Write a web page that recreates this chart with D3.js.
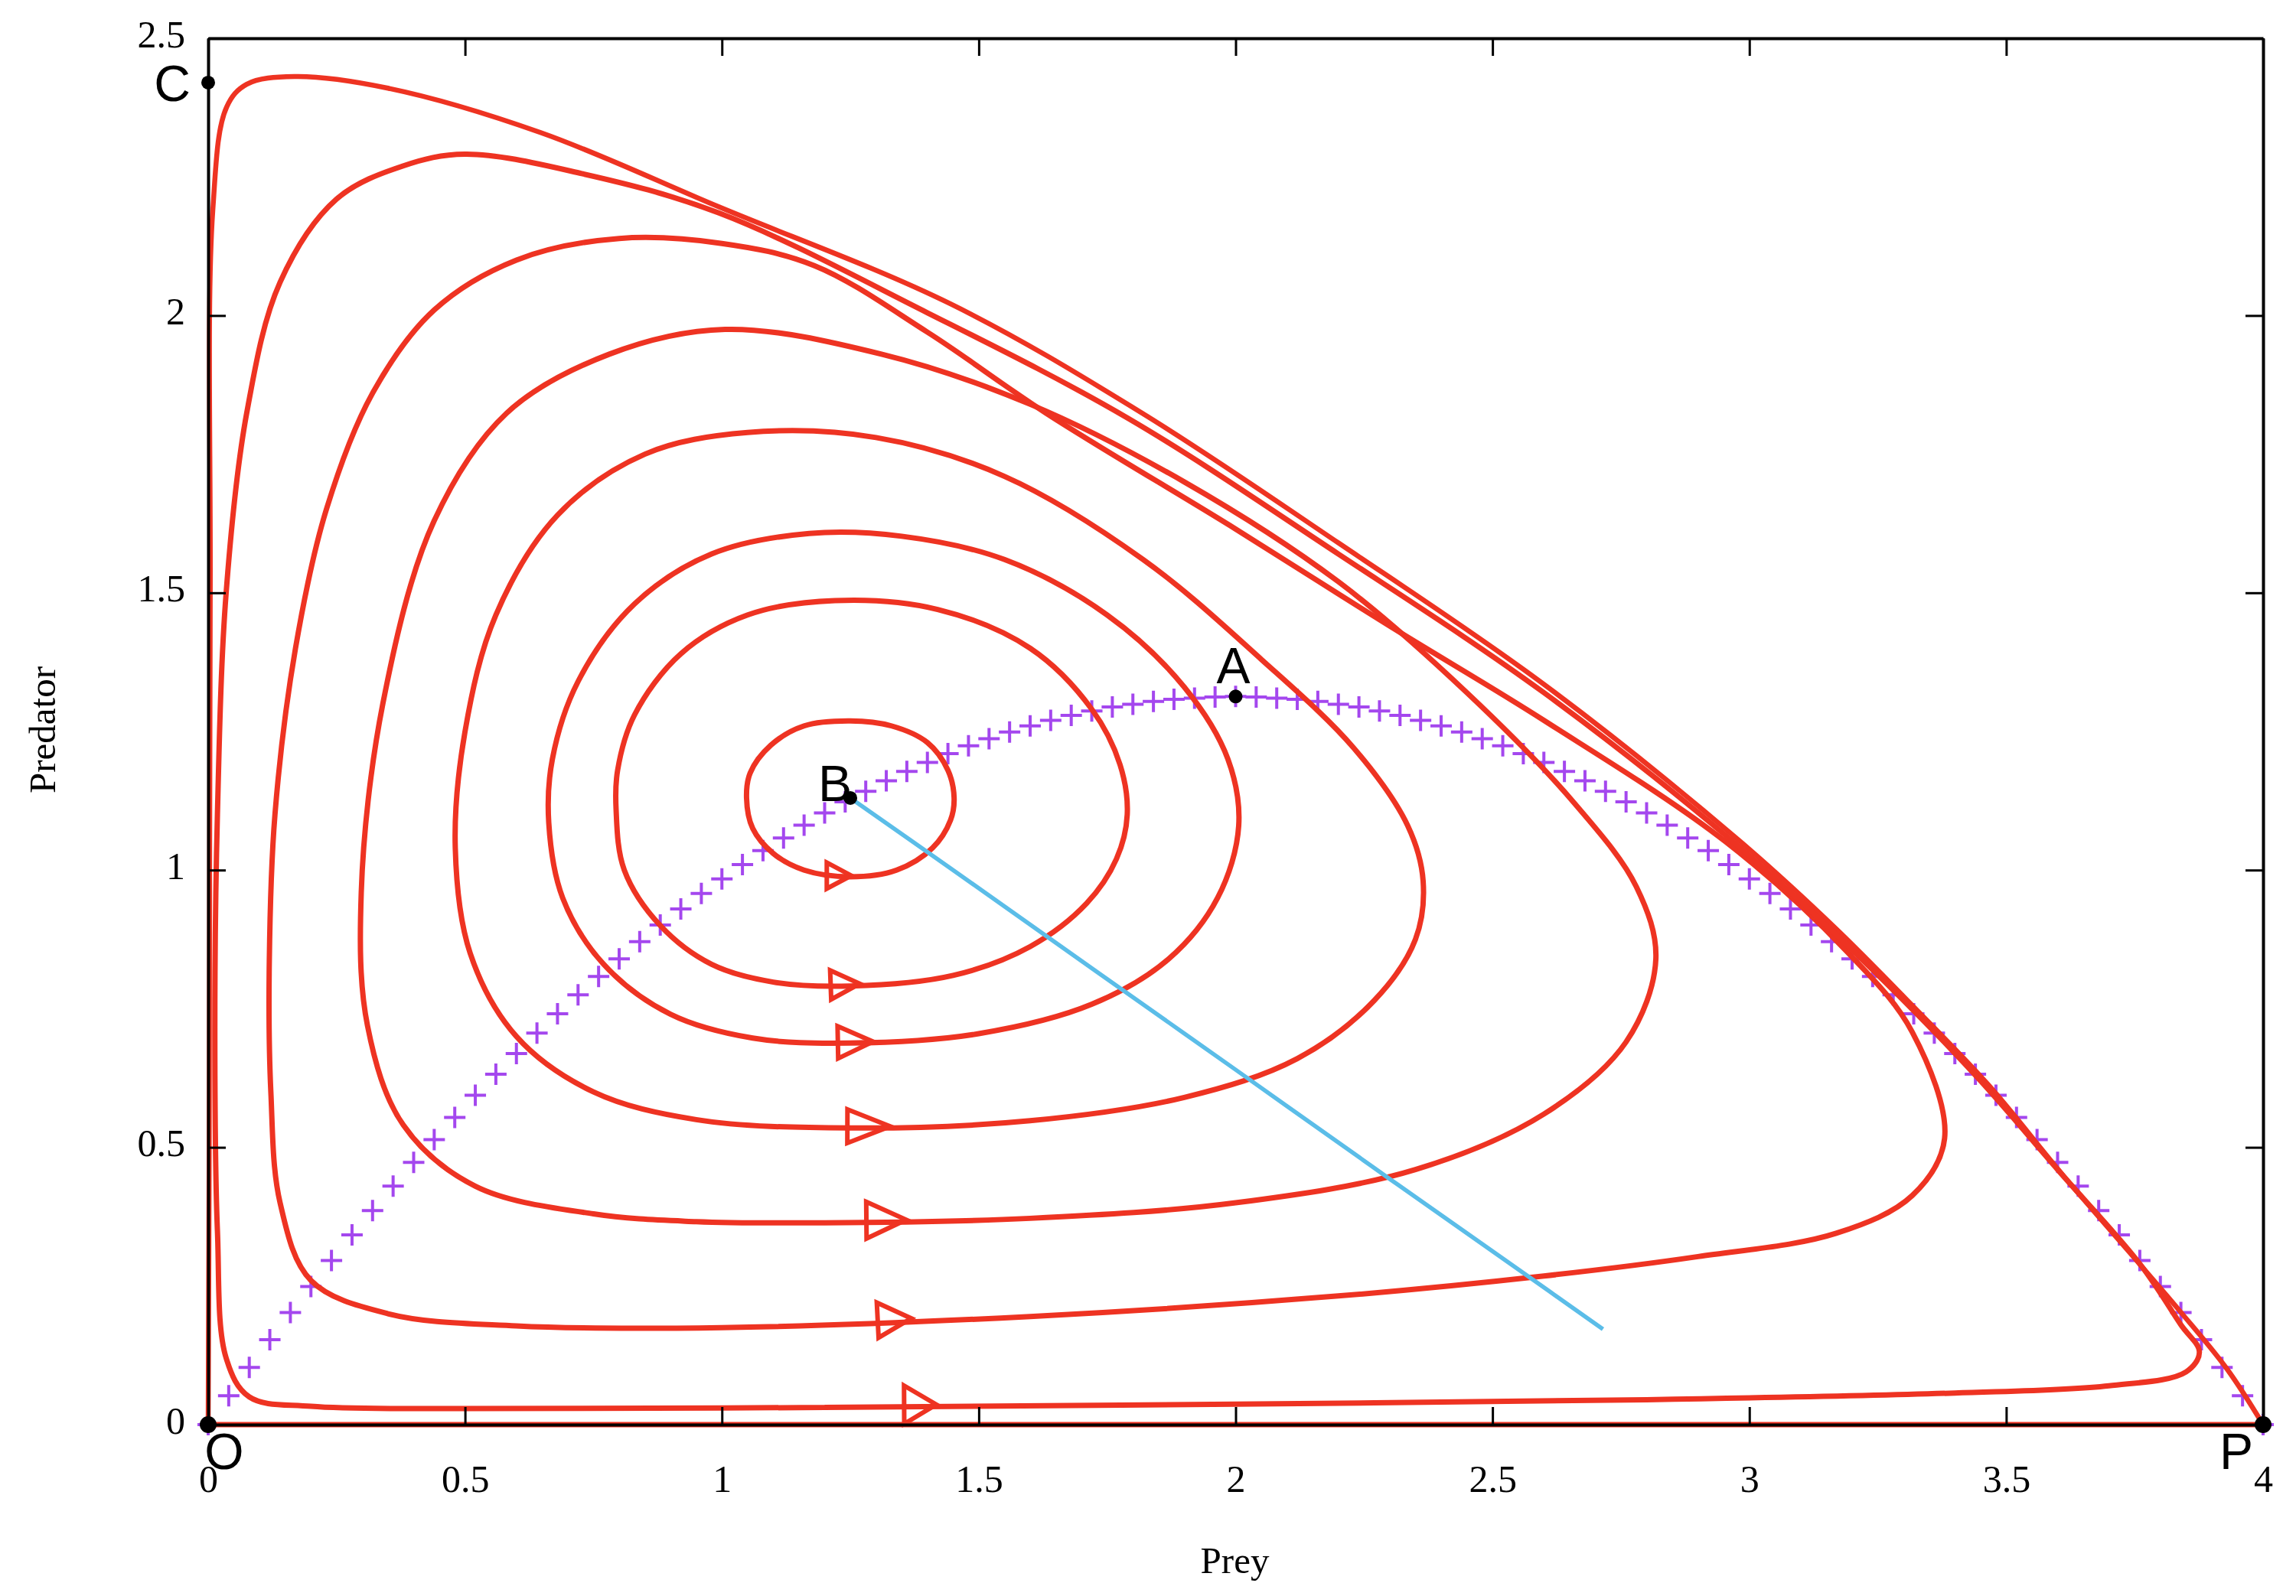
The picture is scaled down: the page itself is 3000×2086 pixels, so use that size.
<!DOCTYPE html>
<html>
<head>
<meta charset="utf-8">
<script src="https://cdn.jsdelivr.net/npm/d3@7"></script>
<style>
  body { margin: 0; background: #fff; }
  svg { display: block; }
  .tick text { font-family: "Liberation Serif", "Times New Roman", serif; font-size: 50px; fill: #000; }
  .axis-title { font-family: "Liberation Serif", "Times New Roman", serif; font-size: 49px; }
  .pt-label { font-family: "Liberation Sans", Arial, sans-serif; font-size: 66px; }
</style>
</head>
<body>
<svg id="chart"></svg>
<script>
// ---- data ----
var xTicks = [0, 0.5, 1, 1.5, 2, 2.5, 3, 3.5, 4];
var yTicks = [0, 0.5, 1, 1.5, 2, 2.5];

// prey nullcline (purple crosses)
var nullX = [0,0.04,0.08,0.12,0.16,0.2,0.24,0.28,0.32,0.36,0.4,0.44,0.48,0.52,0.56,0.6,0.64,0.68,0.72,0.76,
  0.8,0.84,0.88,0.92,0.96,1,1.04,1.08,1.12,1.16,1.2,1.24,1.28,1.32,1.36,1.4,1.44,1.48,1.52,1.56,
  1.6,1.64,1.68,1.72,1.76,1.8,1.84,1.88,1.92,1.96,2,2.04,2.08,2.12,2.16,2.2,2.24,2.28,2.32,2.36,
  2.4,2.44,2.48,2.52,2.56,2.6,2.64,2.68,2.72,2.76,2.8,2.84,2.88,2.92,2.96,3,3.04,3.08,3.12,3.16,
  3.2,3.24,3.28,3.32,3.36,3.4,3.44,3.48,3.52,3.56,3.6,3.64,3.68,3.72,3.76,3.8,3.84,3.88,3.92,3.96,4];
var nullY = [0,0.052,0.103,0.153,0.202,0.249,0.296,0.342,0.386,0.430,0.473,0.514,0.554,0.594,0.632,0.669,0.706,0.741,0.775,0.808,
  0.840,0.871,0.901,0.930,0.958,0.984,1.010,1.035,1.058,1.081,1.103,1.123,1.142,1.161,1.178,1.194,1.210,1.224,1.237,1.249,
  1.260,1.270,1.279,1.287,1.294,1.299,1.304,1.308,1.310,1.312,1.313,1.312,1.310,1.308,1.304,1.299,1.294,1.287,1.279,1.270,
  1.260,1.249,1.237,1.224,1.210,1.194,1.178,1.161,1.142,1.123,1.103,1.081,1.058,1.035,1.010,0.984,0.958,0.930,0.901,0.871,
  0.840,0.808,0.775,0.741,0.706,0.669,0.632,0.594,0.554,0.514,0.473,0.430,0.386,0.342,0.296,0.249,0.202,0.153,0.103,0.052,0];

// closed orbits, innermost first (prey, predator), counter-clockwise from the bottom
var orbit1 = [[1.25,0.988],[1.34,1.0],[1.41,1.04],[1.445,1.09],[1.452,1.13],[1.44,1.18],[1.4,1.23],[1.33,1.26],
  [1.25,1.269],[1.16,1.26],[1.095,1.225],[1.055,1.175],[1.048,1.13],[1.06,1.075],[1.1,1.03],[1.16,1.0]];
var orbit2 = [[1.25,0.791],[1.45,0.81],[1.6,0.862],[1.71,0.94],[1.768,1.02],[1.789,1.1],[1.775,1.19],[1.72,1.29],
  [1.6,1.4],[1.42,1.47],[1.22,1.486],[1.05,1.46],[0.92,1.39],[0.83,1.28],[0.797,1.18],[0.794,1.11],
  [0.81,1.0],[0.88,0.9],[0.98,0.83],[1.1,0.798]];
var orbit3 = [[1.25,0.688],[1.5,0.705],[1.72,0.758],[1.87,0.84],[1.965,0.95],[2.006,1.08],[1.985,1.2],[1.9,1.33],
  [1.75,1.46],[1.55,1.56],[1.35,1.602],[1.17,1.607],[0.98,1.57],[0.83,1.48],[0.72,1.34],[0.67,1.2],
  [0.663,1.085],[0.69,0.95],[0.77,0.83],[0.9,0.74],[1.06,0.697]];
var orbit4 = [[1.25,0.535],[1.6,0.548],[1.9,0.59],[2.12,0.66],[2.27,0.765],[2.35,0.875],[2.365,0.98],[2.335,1.08],
  [2.23,1.22],[2.05,1.38],[1.82,1.56],[1.55,1.71],[1.3,1.78],[1.05,1.789],[0.85,1.75],[0.68,1.64],
  [0.56,1.46],[0.5,1.25],[0.481,1.04],[0.51,0.85],[0.6,0.7],[0.75,0.6],[0.95,0.55]];
var orbit5 = [[1.2,0.364],[1.6,0.372],[2.0,0.4],[2.35,0.46],[2.6,0.56],[2.76,0.69],[2.818,0.84],[2.78,0.97],
  [2.66,1.12],[2.45,1.32],[2.2,1.52],[1.9,1.7],[1.6,1.84],[1.312,1.93],[1.006,1.975],[0.78,1.93],
  [0.581,1.824],[0.44,1.63],[0.34,1.3],[0.298,0.96],[0.31,0.72],[0.38,0.54],[0.52,0.43],[0.75,0.38],[0.95,0.366]];
var orbit6 = [[1.0,0.175],[1.6,0.195],[2.2,0.232],[2.6,0.268],[2.9,0.303],[3.169,0.345],[3.317,0.413],[3.38,0.516],
  [3.317,0.708],[3.19,0.853],[2.954,1.051],[2.6,1.27],[2.3,1.44],[2.0,1.615],[1.631,1.824],[1.4,1.97],
  [1.18,2.09],[1.0,2.13],[0.8,2.139],[0.6,2.1],[0.44,2.01],[0.32,1.86],[0.23,1.65],[0.17,1.4],[0.13,1.1],
  [0.119,0.835],[0.122,0.6],[0.14,0.4],[0.2,0.26],[0.35,0.2],[0.6,0.178]];
var orbit7 = [[0.5,0.029],[1.2,0.031],[2.0,0.037],[2.8,0.045],[3.4,0.057],[3.7,0.07],[3.85,0.095],
  [3.876,0.131],[3.84,0.18],[3.76,0.29],[3.6,0.46],[3.45,0.62],[3.3,0.765],[3.15,0.9],[2.97,1.05],
  [2.6,1.32],[2.2,1.57],[1.79,1.815],[1.4,2.005],[0.994,2.185],[0.727,2.256],[0.5,2.291],[0.38,2.27],
  [0.25,2.21],[0.14,2.06],[0.075,1.824],[0.035,1.5],[0.018,1.1],[0.013,0.7],[0.018,0.35],[0.035,0.12],
  [0.08,0.05],[0.2,0.033]];
var orbits = [orbit1, orbit2, orbit3, orbit4, orbit5, orbit6, orbit7];

// direction markers on the lower branch of each orbit
var arrowPts = [[1.228,0.99],[1.24,0.794],[1.26,0.69],[1.286,0.538],[1.32,0.369],[1.336,0.19],[1.386,0.036]];

// outer separatrix from P up to the top and down the predator axis
var separatrix = [[4,0],[3.93,0.1],[3.836,0.207],[3.613,0.447],[3.465,0.613],[3.317,0.756],[3.169,0.894],
  [2.983,1.051],[2.6,1.335],[2.2,1.59],[1.818,1.824],[1.445,2.021],[0.994,2.196],[0.647,2.33],[0.35,2.41],
  [0.168,2.431],[0.075,2.417],[0.036,2.376],[0.009,2.19],[0.004,1.5],[0.002,0.5],[0,0]];
var preyAxis = [[0,0],[4,0]];

// blue curve from B
var blueCurve = [[1.25,1.13],[1.45,1.0],[1.7,0.836],[2.0,0.64],[2.3,0.443],[2.55,0.28],[2.715,0.172]];

// equilibria
var pointNames = ["O", "P", "C", "A", "B"];
var pointX = [0, 4, 0, 2, 1.25];
var pointY = [0, 0, 2.42, 1.313, 1.13];

// ---- layout ----
var margin = {top: 50, right: 43, bottom: 224, left: 272},
    width = 3000 - margin.left - margin.right,
    height = 2086 - margin.top - margin.bottom;

var red = "#ee3322", purple = "#a447ee", blue = "#5bbde8";

var svg = d3.select("#chart")
   .attr("width", 3000)
   .attr("height", 2086)
   .append("g")
   .attr("transform", "translate(" + margin.left + "," + margin.top + ")");

var x = d3.scaleLinear().domain([0, 4]).range([0, width]);
var y = d3.scaleLinear().domain([0, 2.5]).range([height, 0]);

var closedLine = d3.line()
   .x(function(d) { return x(d[0]); })
   .y(function(d) { return y(d[1]); })
   .curve(d3.curveCatmullRomClosed.alpha(0.5));

var openLine = d3.line()
   .x(function(d) { return x(d[0]); })
   .y(function(d) { return y(d[1]); })
   .curve(d3.curveCatmullRom.alpha(0.5));

// nullcline crosses
svg.append("g")
   .selectAll("path")
   .data(nullX)
   .enter().append("path")
   .attr("d", function(d, i) {
      var cx = x(d), cy = y(nullY[i]);
      return "M" + (cx - 14) + "," + cy + "H" + (cx + 14) + "M" + cx + "," + (cy - 14) + "V" + (cy + 14);
   })
   .style("stroke", purple)
   .style("stroke-width", 4)
   .style("fill", "none");

// red trajectories
svg.append("path")
   .datum(preyAxis)
   .attr("d", d3.line().x(function(d) { return x(d[0]); }).y(function(d) { return y(d[1]); }))
   .style("stroke", red).style("stroke-width", 7).style("fill", "none");

svg.append("path")
   .datum(separatrix)
   .attr("d", openLine)
   .style("stroke", red).style("stroke-width", 6.5).style("fill", "none");

svg.append("g")
   .selectAll("path")
   .data(orbits)
   .enter().append("path")
   .attr("d", closedLine)
   .style("stroke", red)
   .style("stroke-width", 7)
   .style("fill", "none");

// arrow heads (open triangles), oriented along the orbit
var arrowLen = [32, 38, 46, 56, 52, 44, 42];
var arrowHt = [34, 38, 42, 44, 48, 46, 50];
svg.append("g")
   .selectAll("path")
   .data(arrowPts)
   .enter().append("path")
   .attr("d", function(d, i) {
      var L = arrowLen[i], H = arrowHt[i];
      return "M" + (-L / 2) + "," + (-H / 2) + "L" + (L / 2) + ",0L" + (-L / 2) + "," + (H / 2) + "Z";
   })
   .attr("transform", function(d, i) {
      // tangent from the orbit vertices either side of the nearest one
      var o = orbits[i], best = 0, bd = 1e9;
      o.forEach(function(p, j) {
         var dd = Math.abs(p[0] - d[0]) + Math.abs(p[1] - d[1]);
         if (dd < bd) { bd = dd; best = j; }
      });
      var a = o[(best + o.length - 1) % o.length], b = o[(best + 1) % o.length];
      var ang = Math.atan2(y(b[1]) - y(a[1]), x(b[0]) - x(a[0])) * 180 / Math.PI;
      return "translate(" + x(d[0]) + "," + y(d[1]) + ") rotate(" + ang + ")";
   })
   .style("stroke", red)
   .style("stroke-width", 6)
   .style("stroke-linejoin", "miter")
   .style("fill", "none");

// blue curve
svg.append("path")
   .datum(blueCurve)
   .attr("d", openLine)
   .style("stroke", blue)
   .style("stroke-width", 5.5)
   .style("fill", "none");

// axes with inward mirror ticks
var fmt = function(d) { return d3.format("")(d); };
svg.append("g")
   .attr("class", "axis")
   .attr("transform", "translate(0," + height + ")")
   .call(d3.axisBottom(x).tickValues(xTicks).tickFormat(fmt).tickSizeInner(-23).tickSizeOuter(0).tickPadding(52));
svg.append("g")
   .attr("class", "axis axis-left")
   .call(d3.axisLeft(y).tickValues(yTicks).tickFormat(fmt).tickSizeInner(-23).tickSizeOuter(0).tickPadding(30));
svg.append("g")
   .attr("class", "axis")
   .call(d3.axisTop(x).tickValues(xTicks).tickFormat("").tickSizeInner(-23).tickSizeOuter(0));
svg.append("g")
   .attr("class", "axis")
   .attr("transform", "translate(" + width + ",0)")
   .call(d3.axisRight(y).tickValues(yTicks).tickFormat("").tickSizeInner(-23).tickSizeOuter(0));

svg.selectAll(".axis .domain").style("stroke", "#000").style("stroke-width", 4);
svg.selectAll(".axis .tick line").style("stroke", "#000").style("stroke-width", 3);
svg.selectAll(".axis-left .tick text").attr("dy", "0.22em");

// equilibria
svg.append("g")
   .selectAll("circle")
   .data(pointNames)
   .enter().append("circle")
   .attr("cx", function(d, i) { return x(pointX[i]); })
   .attr("cy", function(d, i) { return y(pointY[i]); })
   .attr("r", function(d) { return (d === "O" || d === "P") ? 11 : 9; })
   .style("fill", "#000");

var labelOffset = {O: [21, 58, "middle"], P: [-35, 58, "middle"], C: [-47, 24, "middle"],
                   A: [-3, -17, "middle"], B: [2, 4, "end"]};
svg.append("g")
   .selectAll("text")
   .data(pointNames)
   .enter().append("text")
   .attr("class", "pt-label")
   .attr("x", function(d, i) { return x(pointX[i]) + labelOffset[d][0]; })
   .attr("y", function(d, i) { return y(pointY[i]) + labelOffset[d][1]; })
   .attr("text-anchor", function(d) { return labelOffset[d][2]; })
   .text(function(d) { return d; });

// axis titles
svg.append("text")
   .attr("class", "axis-title")
   .attr("x", width / 2 - 1)
   .attr("y", height + 194)
   .attr("text-anchor", "middle")
   .text("Prey");

svg.append("text")
   .attr("class", "axis-title")
   .attr("transform", "translate(" + (72 - margin.left) + "," + (954 - margin.top) + ") rotate(-90)")
   .attr("text-anchor", "middle")
   .text("Predator");
</script>
</body>
</html>
